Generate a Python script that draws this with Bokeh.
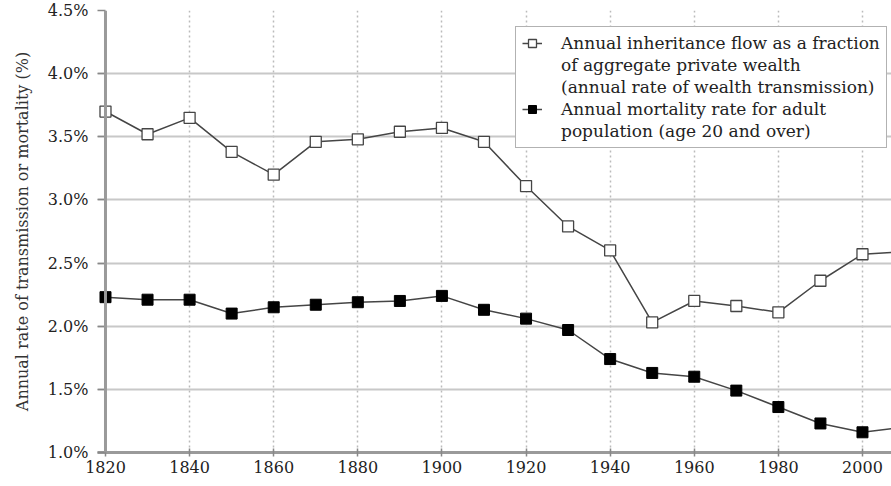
from bokeh.plotting import figure
from bokeh.models import Legend, LegendItem, PrintfTickFormatter, FixedTicker, Range1d, Span
from bokeh.embed import file_html
from bokeh.resources import INLINE

years = [1820, 1830, 1840, 1850, 1860, 1870, 1880, 1890, 1900, 1910,
         1920, 1930, 1940, 1950, 1960, 1970, 1980, 1990, 2000, 2010]
inheritance_flow = [3.70, 3.52, 3.65, 3.38, 3.20, 3.46, 3.48, 3.54, 3.57, 3.46,
                    3.11, 2.79, 2.60, 2.03, 2.20, 2.16, 2.11, 2.36, 2.57, 2.59]
mortality_rate = [2.23, 2.21, 2.21, 2.10, 2.15, 2.17, 2.19, 2.20, 2.24, 2.13,
                  2.06, 1.97, 1.74, 1.63, 1.60, 1.49, 1.36, 1.23, 1.16, 1.20]
x_ticks = [1820, 1840, 1860, 1880, 1900, 1920, 1940, 1960, 1980, 2000]
y_ticks = [1.0, 1.5, 2.0, 2.5, 3.0, 3.5, 4.0, 4.5]
legend_inh = ["Annual inheritance flow as a fraction",
              "of aggregate private wealth",
              "(annual rate of wealth transmission)"]
legend_mort = ["Annual mortality rate for adult",
               "population (age 20 and over)"]

FONT = "DejaVu Serif"

p = figure(width=891, height=486, output_backend="svg", toolbar_location=None,
           x_range=Range1d(1818.1, 2006.9), y_range=Range1d(1.0, 4.5),
           min_border_left=97, min_border_right=0, min_border_top=10, min_border_bottom=34)
p.outline_line_color = None
p.background_fill_color = "white"

# grids
p.xgrid.ticker = FixedTicker(ticks=x_ticks[1:])
p.xgrid.grid_line_color = "#bbbbbb"
p.xgrid.grid_line_dash = "2 3"
p.xgrid.grid_line_width = 1.5
p.ygrid.ticker = FixedTicker(ticks=y_ticks)
p.ygrid.grid_line_color = "#c8c8c8"
p.ygrid.grid_line_width = 2

# axes
for ax in (p.xaxis[0], p.yaxis[0]):
    ax.major_tick_line_color = "#888888"
    ax.major_tick_line_width = 1.5
    ax.minor_tick_line_color = None
    ax.major_label_text_font = FONT
    ax.major_label_text_font_size = "16px"
    ax.major_label_text_color = "#222222"

p.xaxis.axis_line_color = "#9a9a9a"
p.xaxis.axis_line_width = 3
p.xaxis.ticker = FixedTicker(ticks=x_ticks)
p.xaxis.major_tick_in = 4
p.xaxis.major_tick_out = 4
p.xaxis.major_label_standoff = 4
p.xaxis.axis_label_standoff = 0

p.yaxis.axis_line_color = None
p.yaxis.ticker = FixedTicker(ticks=y_ticks)
p.yaxis.formatter = PrintfTickFormatter(format="%.1f%%")
p.yaxis.major_tick_in = 8
p.yaxis.major_tick_out = 0
p.yaxis.major_label_standoff = 9
p.yaxis.axis_label = "Annual rate of transmission or mortality (%)"
p.yaxis.axis_label_text_font = FONT
p.yaxis.axis_label_text_font_size = "16px"
p.yaxis.axis_label_text_font_style = "normal"
p.yaxis.axis_label_text_color = "#333333"
p.yaxis.axis_label_standoff = 13

# vertical axis line at the first year
p.add_layout(Span(location=x_ticks[0], dimension="height",
                  line_color="#9a9a9a", line_width=3))

LINE = "#454545"
l1 = p.line(years, inheritance_flow, line_color=LINE, line_width=1.5)
m1 = p.scatter(years, inheritance_flow, marker="square", size=11,
               fill_color="white", line_color=LINE, line_width=1.3)
l2 = p.line(years, mortality_rate, line_color=LINE, line_width=1.5)
m2 = p.scatter(years, mortality_rate, marker="square", size=11,
               fill_color="black", line_color="black")
blank = p.line(x=[], y=[], line_alpha=0)

items = [LegendItem(label=legend_inh[0], renderers=[l1, m1])]
items += [LegendItem(label=t, renderers=[blank]) for t in legend_inh[1:]]
items += [LegendItem(label=legend_mort[0], renderers=[l2, m2])]
items += [LegendItem(label=t, renderers=[blank]) for t in legend_mort[1:]]

legend = Legend(items=items, location=(418, 304))
legend.border_line_color = "#666666"
legend.border_line_width = 1.5
legend.background_fill_alpha = 1.0
legend.label_text_font = FONT
legend.label_text_font_size = "17px"
legend.label_text_color = "#222222"
legend.label_height = 20
legend.glyph_width = 20
legend.glyph_height = 20
legend.label_standoff = 19
legend.padding = 6
legend.spacing = 2
legend.margin = 0
p.add_layout(legend)

open("out.html", "w").write(file_html(p, INLINE))
